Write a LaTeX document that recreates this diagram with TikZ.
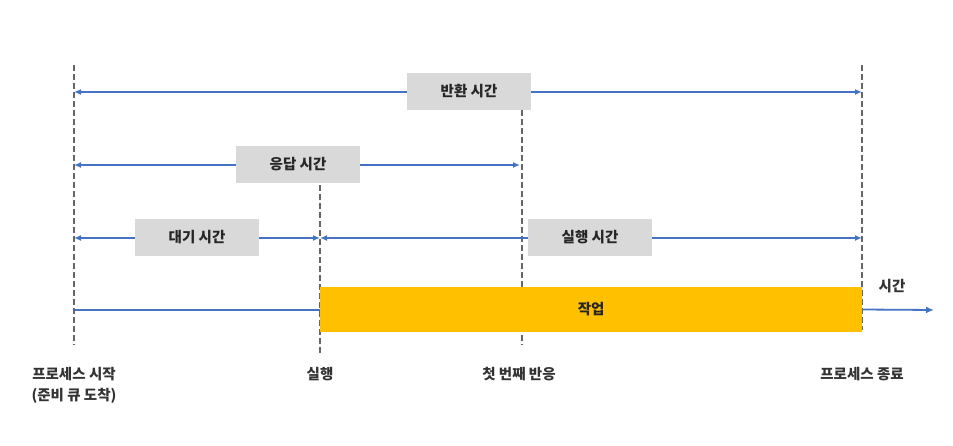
\documentclass[tikz,border=0pt]{standalone}
\usepackage{fontspec}
\setmainfont{Noto Sans CJK KR}
\usetikzlibrary{arrows.meta}
\definecolor{ablue}{HTML}{4472C4}
\definecolor{gbox}{HTML}{D9D9D9}
\definecolor{orng}{HTML}{FFC000}
\begin{document}
\begin{tikzpicture}[x=1pt,y=-1pt,
  vl/.style={dash pattern=on 6pt off 3pt,draw=gray!80!black,line width=1.8pt},
  arr/.style={ablue,line width=1.5pt,{Latex[length=7pt,width=6pt]}-{Latex[length=7pt,width=6pt]}},
  lab/.style={fill=gbox,minimum width=124pt,minimum height=37pt,font=\bfseries\fontsize{14.5}{17}\selectfont,text=black!85},
  bot/.style={font=\bfseries\fontsize{14.5}{17}\selectfont,text=black!80}]
\useasboundingbox (0,0) rectangle (953,446);
\coordinate (a1) at (74,65); \coordinate (a2) at (74,345);
\coordinate (b1) at (320,185); \coordinate (b2) at (320,355);
\coordinate (c1) at (522,110); \coordinate (c2) at (522,345);
\coordinate (d1) at (862,65); \coordinate (d2) at (862,330);
\draw[vl] (a1)--(a2); \draw[vl] (b1)--(b2); \draw[vl] (c1)--(c2); \draw[vl] (d1)--(d2);
\coordinate (t1s) at (74,92); \coordinate (t1e) at (862,92);
\draw[arr] (t1s)--(t1e);
\node[lab] (l1) at (469,91.5) {반환 시간};
\coordinate (t2s) at (74,165); \coordinate (t2e) at (520,165);
\draw[arr] (t2s)--(t2e);
\node[lab] (l2) at (298,164.5) {응답 시간};
\coordinate (t3s) at (74,238); \coordinate (t3e) at (320,238);
\coordinate (t4e) at (862,238);
\draw[arr] (t3s)--(t3e);
\draw[arr] (t3e)--(t4e);
\node[lab] (l3) at (197,237.5) {대기 시간};
\node[lab] (l4) at (590,237.5) {실행 시간};
\coordinate (w0) at (74,310); \coordinate (w1) at (320,310);
\draw[ablue,line width=1.8pt] (w0)--(w1);
\node[fill=orng,minimum width=542pt,minimum height=45pt,anchor=west,font=\bfseries\fontsize{14.5}{17}\selectfont,text=black!85] (job) at (320,309.5) {작업};
\coordinate (tend) at (934,310);
\draw[ablue,line width=1.8pt,-{Latex[length=8pt,width=7pt]}] (job.east)--(tend);
\node[bot] (tl) at (892,286) {시간};
\node[bot] (p1) at (74,374) {프로세스 시작};
\node[bot] (p1b) at (74,396) {(준비 큐 도착)};
\node[bot] (p2) at (320,374) {실행};
\node[bot] (p3) at (519,374) {첫 번째 반응};
\node[bot] (p4) at (862,374) {프로세스 종료};
\end{tikzpicture}
\end{document}
